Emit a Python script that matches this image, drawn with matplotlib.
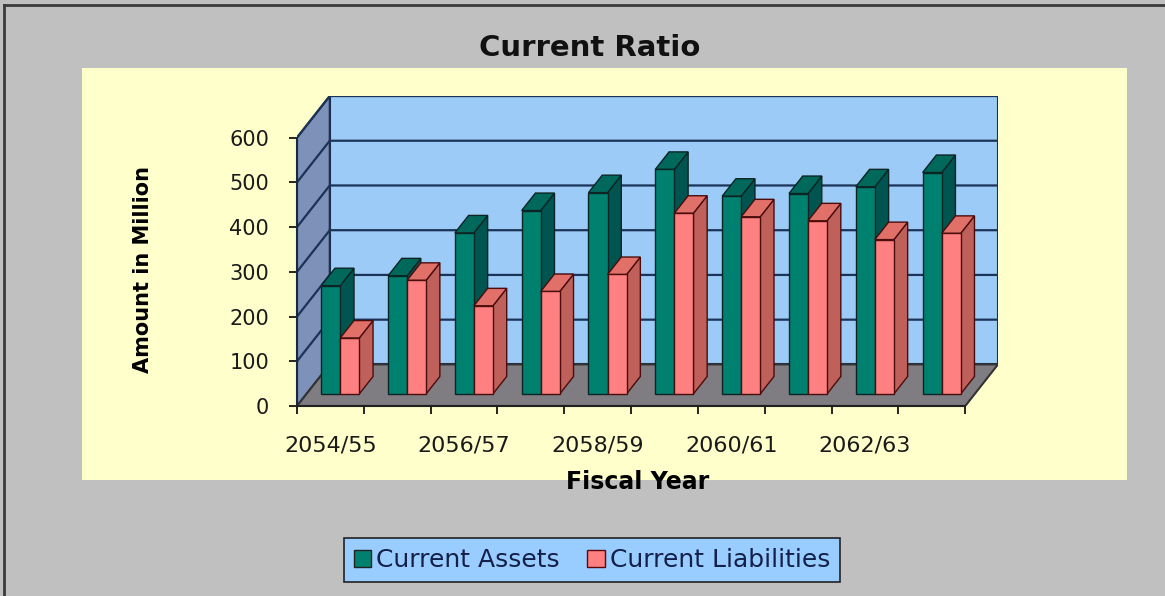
import matplotlib
matplotlib.use('Agg')
import matplotlib.pyplot as plt
from matplotlib.patches import Polygon, Rectangle, Patch
from matplotlib.lines import Line2D

# fiscal years and amounts (million)
categories = ['2054/55', '2055/56', '2056/57', '2057/58', '2058/59',
              '2059/60', '2060/61', '2061/62', '2062/63', '2063/64']
current_assets = [242, 264, 360, 410, 450, 502, 442, 448, 463, 495]
current_liabilities = [125, 254, 197, 229, 267, 404, 396, 387, 345, 359]
y_ticks = [0, 100, 200, 300, 400, 500, 600]

# oblique "3D" look: depth offset in data units
DX, DY = 0.49, 93
D_FRONT, D_BACK = 0.29, 0.71
BAR_W, BAR_OFF = 0.285, 0.22
n = len(categories)
ymax = y_ticks[-1]

W, H = 1165, 596
fig = plt.figure(figsize=(W / 100, H / 100), dpi=100, facecolor='#c0c0c0')


def fx(px):
    return px / W


def fy(py):
    return 1 - py / H


# outer frame + pale yellow chart area
fig.add_artist(Line2D([fx(4), fx(4)], [0, fy(5)], color='#3a3a3a', lw=2))
fig.add_artist(Line2D([fx(4), 1], [fy(5), fy(5)], color='#3a3a3a', lw=2))
fig.add_artist(Rectangle((fx(82), fy(480)), (1127 - 82) / W, (480 - 68) / H,
                         transform=fig.transFigure, facecolor='#ffffcc',
                         edgecolor='none', zorder=0))

ax = fig.add_axes([297 / W, (H - 406) / H, 701 / W, 310 / H])
ax.set_xlim(0, n + DX)
ax.set_ylim(0, ymax + DY)
ax.patch.set_visible(False)
for s in ['top', 'right']:
    ax.spines[s].set_visible(False)

# walls and floor
ax.add_patch(Rectangle((DX, DY), n, ymax, facecolor='#9ccbf8',
                       edgecolor='#1c2f4f', lw=1.5, zorder=1))
ax.add_patch(Polygon([(0, 0), (0, ymax), (DX, ymax + DY), (DX, DY)],
                     facecolor='#7e91b8', edgecolor='#1c2f4f', lw=1.5, zorder=1))
ax.add_patch(Polygon([(0, 0), (n, 0), (n + DX, DY), (DX, DY)],
                     facecolor='#7f7c82', edgecolor='#333333', lw=1.5, zorder=1))
for v in y_ticks[1:]:
    ax.plot([0, DX, n + DX], [v, v + DY, v + DY], color='#1c3358', lw=1.6,
            zorder=2, solid_capstyle='butt')


def draw_bar(x0, v, face, side, top, edge, z):
    xf, yf = x0 + D_FRONT * DX, D_FRONT * DY
    xb, yb = x0 + D_BACK * DX, D_BACK * DY
    ax.add_patch(Polygon([(xf + BAR_W, yf), (xb + BAR_W, yb),
                          (xb + BAR_W, yb + v), (xf + BAR_W, yf + v)],
                         facecolor=side, edgecolor=edge, lw=1, zorder=z))
    ax.add_patch(Polygon([(xf, yf + v), (xf + BAR_W, yf + v),
                          (xb + BAR_W, yb + v), (xb, yb + v)],
                         facecolor=top, edgecolor=edge, lw=1, zorder=z))
    ax.add_patch(Rectangle((xf, yf), BAR_W, v, facecolor=face,
                           edgecolor=edge, lw=1, zorder=z))


z = 3
for i in range(n):
    draw_bar(i + BAR_OFF, current_assets[i], '#00806f', '#005550', '#00695c',
             '#0c2424', z)
    draw_bar(i + BAR_OFF + BAR_W, current_liabilities[i], '#ff8080', '#c0605a',
             '#e07068', '#4a0c0c', z + 1)
    z += 2

# axes, ticks, labels
ax.spines['left'].set_bounds(0, ymax)
ax.spines['bottom'].set_bounds(0, n)
ax.spines['left'].set_color('#1a2740')
ax.spines['bottom'].set_color('#202020')
ax.spines['left'].set_linewidth(1.5)
ax.spines['bottom'].set_linewidth(1.5)
ax.set_yticks(y_ticks)
ax.tick_params(axis='y', direction='out', length=6, width=1.2, pad=14,
               labelsize=15, labelcolor='#1a1a1a')
ax.set_xticks([i + 0.5 for i in range(0, n, 2)])
ax.set_xticklabels(categories[::2])
ax.set_xticks(range(n + 1), minor=True)
ax.tick_params(axis='x', which='major', length=0, pad=21, labelsize=16,
               labelcolor='#1a1a1a')
ax.tick_params(axis='x', which='minor', direction='out', length=6, width=1.2)

ax.text(-0.22, 0.44, 'Amount in Million', transform=ax.transAxes, rotation=90,
        ha='center', va='center', fontsize=15, fontweight='bold')
ax.text(0.486, -0.245, 'Fiscal Year', transform=ax.transAxes,
        ha='center', va='center', fontsize=17, fontweight='bold')
fig.text(fx(590), fy(48), 'Current Ratio', ha='center', va='center',
         fontsize=21, fontweight='bold', color='#111111')

handles = [Patch(facecolor='#00806f', edgecolor='#222222'),
           Patch(facecolor='#ff8080', edgecolor='#5a0a0a')]
leg = fig.legend(handles, ['Current Assets', 'Current Liabilities'],
                 loc='center', bbox_to_anchor=(fx(592), fy(560)), ncol=2,
                 frameon=True, facecolor='#99ccff', edgecolor='#222222',
                 framealpha=1, fancybox=False, fontsize=18, handlelength=0.7,
                 handleheight=0.7, handletextpad=0.2, columnspacing=1.1,
                 borderpad=0.4, borderaxespad=0)
leg.get_frame().set_linewidth(1.2)
for t in leg.get_texts():
    t.set_color('#14204a')

fig.savefig('out.png', dpi=100, facecolor=fig.get_facecolor())
